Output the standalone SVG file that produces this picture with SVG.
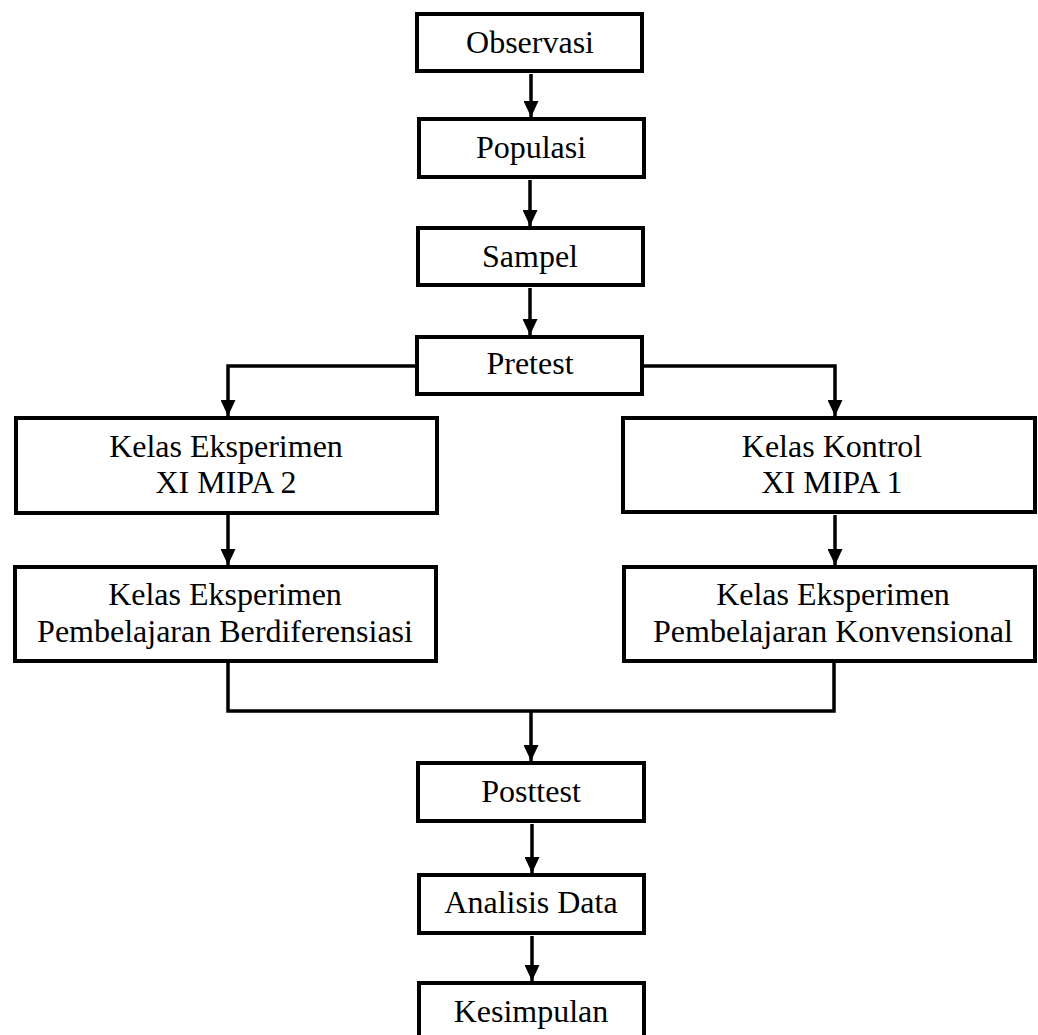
<svg xmlns="http://www.w3.org/2000/svg" width="1038" height="1035" viewBox="0 0 1038 1035">
<style>
.box{fill:#fff;stroke:#000;stroke-width:4}
.lbl{font-family:"Liberation Serif","Times New Roman",serif;font-size:32px;fill:#000;text-anchor:middle}
.con{fill:none;stroke:#000;stroke-width:3.5}
</style>
<defs>
<marker id="arr" markerUnits="userSpaceOnUse" markerWidth="16" markerHeight="15" viewBox="0 0 16 15" refX="16" refY="7.5" orient="auto">
<path d="M0,0 L16,7.5 L0,15 z" fill="#000"/>
</marker>
</defs>
<rect width="1038" height="1035" fill="#fff"/>
<g id="connectors">
<path class="con" d="M531,74 V117" marker-end="url(#arr)"/>
<path class="con" d="M530,180 V226" marker-end="url(#arr)"/>
<path class="con" d="M530,288 V335" marker-end="url(#arr)"/>
<path class="con" d="M415,366 H228 V416" marker-end="url(#arr)"/>
<path class="con" d="M644,366 H835 V416" marker-end="url(#arr)"/>
<path class="con" d="M228,515 V565" marker-end="url(#arr)"/>
<path class="con" d="M835,515 V565" marker-end="url(#arr)"/>
<path class="con" d="M228,663 V711 H834 V663"/>
<path class="con" d="M531,711 V761" marker-end="url(#arr)"/>
<path class="con" d="M532,824 V873" marker-end="url(#arr)"/>
<path class="con" d="M532,936 V981" marker-end="url(#arr)"/>
</g>
<g id="observasi"><rect class="box" x="417" y="14" width="225" height="57"/><text class="lbl" x="530" y="53">Observasi</text></g>
<g id="populasi"><rect class="box" x="419" y="119" width="225" height="58"/><text class="lbl" x="531" y="158">Populasi</text></g>
<g id="sampel"><rect class="box" x="418" y="228" width="225" height="57"/><text class="lbl" x="530" y="267">Sampel</text></g>
<g id="pretest"><rect class="box" x="417" y="337" width="225" height="57"/><text class="lbl" x="530" y="374">Pretest</text></g>
<g id="kelas-eksperimen"><rect class="box" x="16" y="418" width="421" height="95"/><text class="lbl" x="226" y="457">Kelas Eksperimen</text><text class="lbl" x="226" y="493">XI MIPA 2</text></g>
<g id="kelas-kontrol"><rect class="box" x="623" y="418" width="412" height="94"/><text class="lbl" x="832" y="457">Kelas Kontrol</text><text class="lbl" x="832" y="493">XI MIPA 1</text></g>
<g id="pembelajaran-berdiferensiasi"><rect class="box" x="15" y="567" width="421" height="94"/><text class="lbl" x="225" y="605">Kelas Eksperimen</text><text class="lbl" x="225" y="642">Pembelajaran Berdiferensiasi</text></g>
<g id="pembelajaran-konvensional"><rect class="box" x="624" y="567" width="411" height="94"/><text class="lbl" x="833" y="605">Kelas Eksperimen</text><text class="lbl" x="833" y="642">Pembelajaran Konvensional</text></g>
<g id="posttest"><rect class="box" x="418" y="763" width="226" height="58"/><text class="lbl" x="531" y="802">Posttest</text></g>
<g id="analisis-data"><rect class="box" x="419" y="875" width="225" height="58"/><text class="lbl" x="531" y="913">Analisis Data</text></g>
<g id="kesimpulan"><rect class="box" x="419" y="983" width="225" height="62"/><text class="lbl" x="531" y="1022">Kesimpulan</text></g>
</svg>
